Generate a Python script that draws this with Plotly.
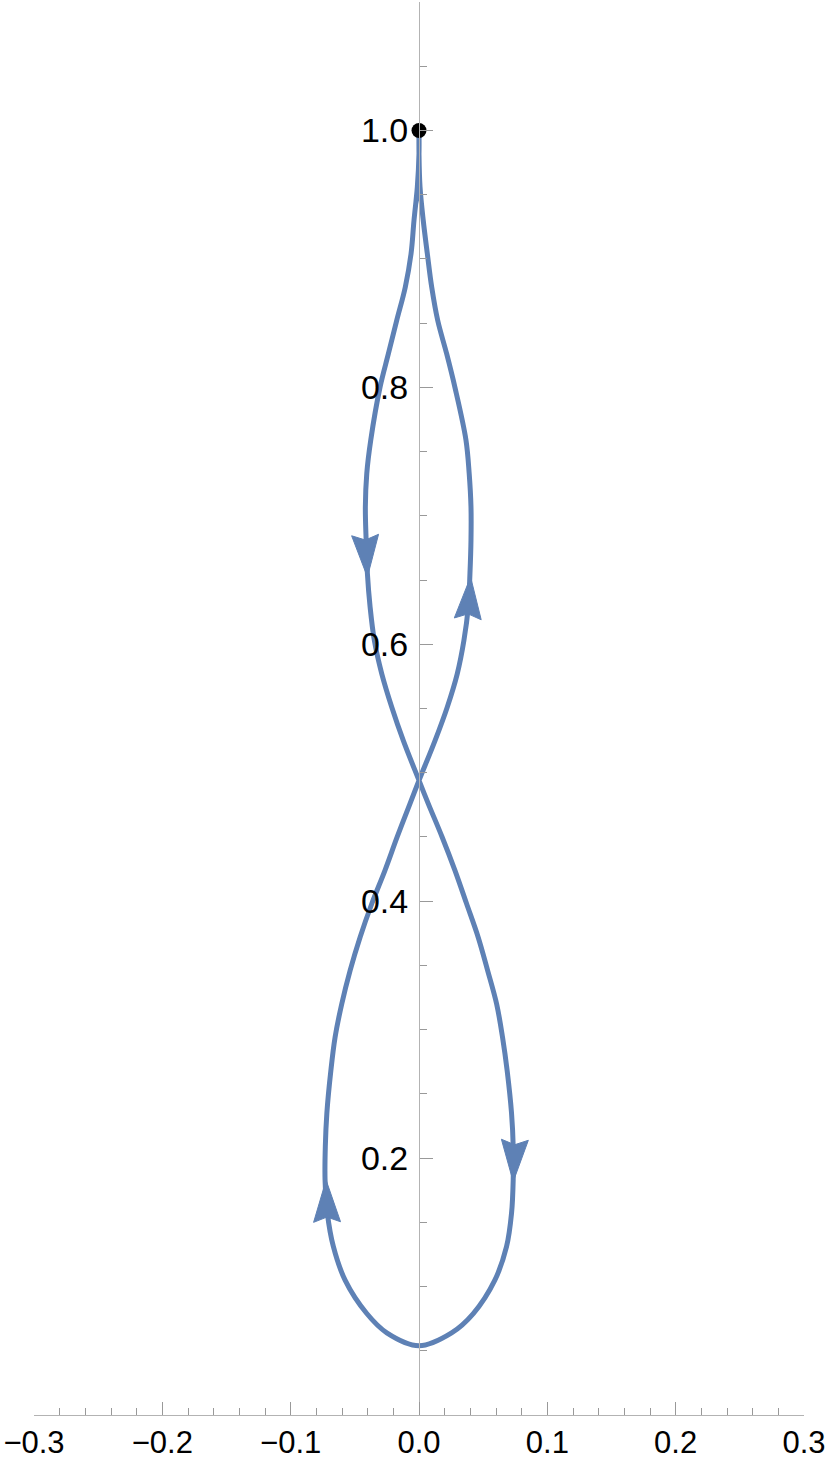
import numpy as np
import plotly.graph_objects as go

# path traced from the top point: down the upper-left lobe, through the crossing,
# round the lower loop and back up the upper-right side
path_x = [0.0, 0.0, -0.0013, -0.0039, -0.0062, -0.0107, -0.0174, -0.0239, -0.0304,
          -0.0376, -0.0407, -0.0418, -0.0412, -0.0402, -0.0381, -0.0348, -0.0290, -0.0212, -0.0122,
          0.0,
          0.0072, 0.0180, 0.0280, 0.0371, 0.0461, 0.0535, 0.0605, 0.0651, 0.0687,
          0.0721, 0.0734, 0.0734, 0.0721, 0.0682, 0.0591, 0.0423, 0.0254, 0.0,
          -0.0251, -0.0407, -0.0576, -0.0667, -0.0714, -0.0732, -0.0730, -0.0718, -0.0687,
          -0.0654, -0.0602, -0.0537, -0.0459, -0.0368, -0.0265, -0.0170, -0.0070, 0.0,
          0.0125, 0.0220, 0.0298, 0.0350, 0.0384, 0.0397, 0.0405, 0.0405, 0.0391,
          0.0366, 0.0280, 0.0216, 0.0146, 0.0099, 0.0065, 0.0033, 0.0008, 0.0, 0.0]
path_y = [1.000, 0.982, 0.956, 0.930, 0.904, 0.878, 0.852, 0.826, 0.800,
          0.759, 0.733, 0.707, 0.681, 0.655, 0.629, 0.603, 0.577, 0.551, 0.525,
          0.494,
          0.476, 0.450, 0.424, 0.398, 0.372, 0.346, 0.320, 0.294, 0.268,
          0.235, 0.209, 0.183, 0.157, 0.131, 0.105, 0.079, 0.064, 0.054,
          0.064, 0.079, 0.105, 0.131, 0.157, 0.183, 0.209, 0.235, 0.268,
          0.294, 0.320, 0.346, 0.372, 0.398, 0.424, 0.450, 0.476, 0.494,
          0.525, 0.551, 0.577, 0.603, 0.629, 0.655, 0.681, 0.707, 0.733,
          0.759, 0.800, 0.826, 0.852, 0.878, 0.904, 0.930, 0.956, 0.982, 1.000]

# arrowheads: tip point and a point just behind it on the curve
tip_x = [-0.0402, 0.0402, 0.0734, -0.0724]
tip_y = [0.6524, 0.6524, 0.1816, 0.1829]
back_x = [-0.0420, 0.0379, 0.0747, -0.0716]
back_y = [0.685, 0.6185, 0.2142, 0.1484]

start_x = [0.0]
start_y = [1.0]

x_ticks = [-0.3, -0.2, -0.1, 0.0, 0.1, 0.2, 0.3]
x_labels = ["\u22120.3", "\u22120.2", "\u22120.1", "0.0", "0.1", "0.2", "0.3"]
y_ticks = [0.2, 0.4, 0.6, 0.8, 1.0]
y_labels = ["0.2", "0.4", "0.6", "0.8", "1.0"]

blue = "#5E81B5"
tick_col = "#999999"
axis_col = "#b3b3b3"

fig = go.Figure()

fig.add_trace(go.Scatter(
    x=path_x, y=path_y, mode="lines",
    line=dict(color=blue, width=5, shape="spline", smoothing=1.0),
    hoverinfo="skip", showlegend=False
))

# arrowhead polygons (size in data units; axes share the same px/unit)
L, W, notch = 0.0327, 0.0105, 0.0039
for tx, ty, bx, by in zip(tip_x, tip_y, back_x, back_y):
    d = np.array([tx - bx, ty - by])
    d = d / np.linalg.norm(d)
    n = np.array([-d[1], d[0]])
    t = np.array([tx, ty])
    pts = [t, t - L * d + W * n, t - (L - notch) * d, t - L * d - W * n, t]
    fig.add_trace(go.Scatter(
        x=[p[0] for p in pts], y=[p[1] for p in pts],
        mode="lines", fill="toself", fillcolor=blue,
        line=dict(color=blue, width=1),
        hoverinfo="skip", showlegend=False
    ))

fig.add_trace(go.Scatter(
    x=start_x, y=start_y, mode="markers",
    marker=dict(color="black", size=15),
    hoverinfo="skip", showlegend=False
))

xfont = dict(family="Liberation Sans, Arial, sans-serif", size=31, color="black")
yfont = dict(family="Liberation Sans, Arial, sans-serif", size=34, color="black")

fig.update_layout(
    width=830, height=1464,
    margin=dict(l=34, r=26, t=2, b=49),
    plot_bgcolor="white", paper_bgcolor="white",
    showlegend=False,
    font=xfont,
    xaxis=dict(
        range=[-0.3, 0.3], showgrid=False, zeroline=False,
        showline=True, linecolor=axis_col, linewidth=1,
        tickmode="array", tickvals=x_ticks, ticktext=x_labels,
        ticks="inside", ticklen=13, tickwidth=1, tickcolor=tick_col,
        tickfont=xfont,
        minor=dict(tickmode="array", tickvals=list(np.round(np.arange(-0.3, 0.301, 0.02), 3)),
                   ticks="inside", ticklen=7, tickwidth=1, tickcolor=tick_col, showgrid=False),
        anchor="free", position=0,
    ),
    yaxis=dict(
        range=[0, 1.1], showgrid=False, zeroline=False,
        showline=True, linecolor=axis_col, linewidth=1,
        tickmode="array", tickvals=y_ticks, ticktext=y_labels,
        ticks="inside", ticklen=13, tickwidth=1, tickcolor=tick_col,
        tickfont=yfont, ticklabelstandoff=4,
        minor=dict(tickmode="array", tickvals=list(np.round(np.arange(0.05, 1.101, 0.05), 3)),
                   ticks="inside", ticklen=7, tickwidth=1, tickcolor=tick_col, showgrid=False),
        anchor="free", position=0.5,
    ),
)

# drop the browser's default 8px page margin so the figure sits at the window origin
fig.write_html("out.html", config={"displayModeBar": False},
               post_script="document.body.style.margin='0px';")
